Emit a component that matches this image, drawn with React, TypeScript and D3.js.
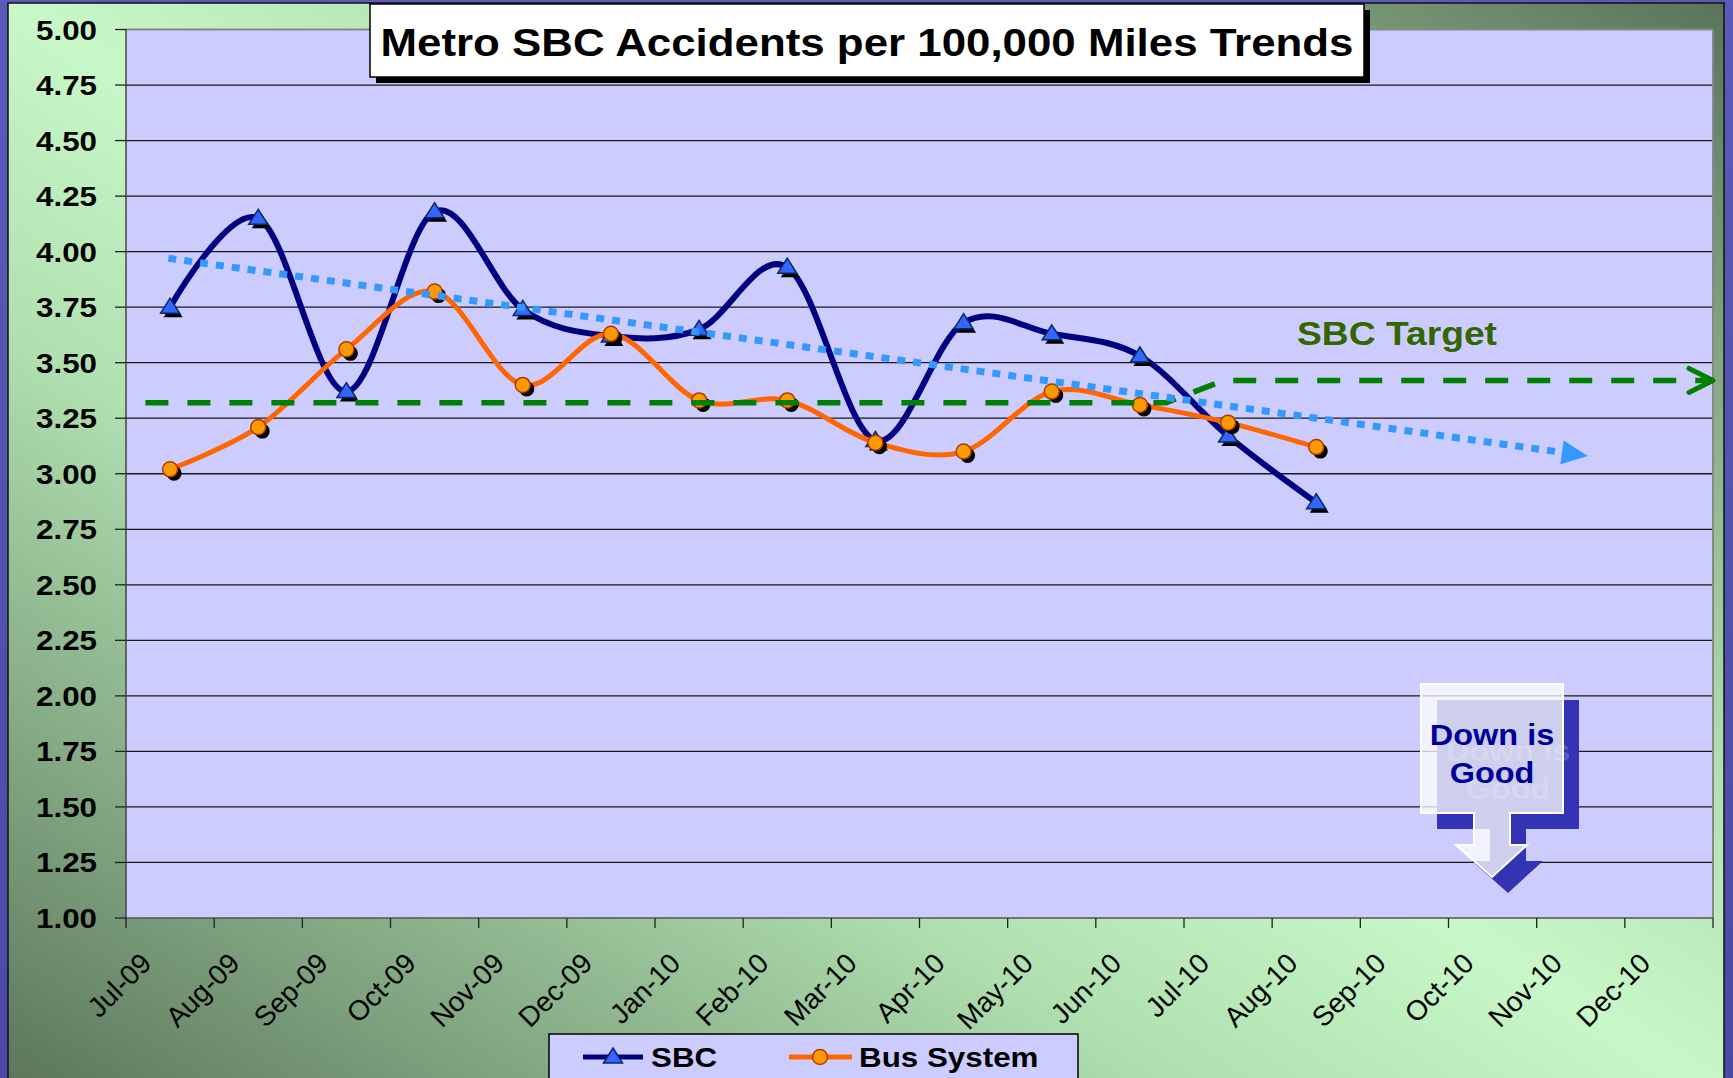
import React from 'react';
import * as d3 from 'd3';

// chart values
const months = ["Jul-09", "Aug-09", "Sep-09", "Oct-09", "Nov-09", "Dec-09", "Jan-10", "Feb-10", "Mar-10",
    "Apr-10", "May-10", "Jun-10", "Jul-10", "Aug-10", "Sep-10", "Oct-10", "Nov-10", "Dec-10"];
const sbcValues = [3.75, 4.15, 3.37, 4.18, 3.74, 3.62, 3.65, 3.93, 3.15, 3.68, 3.63, 3.53, 3.17, 2.87];
const busValues = [3.02, 3.21, 3.56, 3.82, 3.40, 3.63, 3.33, 3.33, 3.14, 3.10, 3.37, 3.31, 3.23, 3.12];
const yTicks = [1.00, 1.25, 1.50, 1.75, 2.00, 2.25, 2.50, 2.75, 3.00, 3.25, 3.50, 3.75, 4.00, 4.25, 4.50, 4.75, 5.00];
// target line (month position, value) and trend line ends
const targetPos = [0.22, 11.8, 12.45, 18.0];
const targetValues = [3.32, 3.32, 3.42, 3.42];
const trendPos = [0.48, 16.58];
const trendValues = [3.97, 3.08];

const W = 1733, H = 1078;
const margin = { left: 126, right: 20, top: 29.5, bottom: 160 };
const SX = 1.12; // source image is stretched horizontally
const FONT = "'Liberation Sans', Arial, sans-serif";

const x = d3.scaleBand().domain(months).range([margin.left, W - margin.right]).padding(0);
const xi = d3.scaleLinear().domain([0, months.length]).range([margin.left, W - margin.right]);
const y = d3.scaleLinear().domain([1, 5]).range([H - margin.bottom, margin.top]);

const cx = (i: number) => (x(months[i]) as number) + x.bandwidth() / 2;

const smooth = d3.line<number>()
    .x((d, i) => cx(i))
    .y(d => y(d))
    .curve(d3.curveCatmullRom.alpha(0));

const tri = "M0,-9 L9.5,6 L-9.5,6 Z";

const SText = ({ x: tx, y: ty, children, anchor = "start", size, weight = "bold", fill = "#000" }: any) => (
    <text transform={`translate(${tx},${ty}) scale(${SX},1)`} textAnchor={anchor}
        fontFamily={FONT} fontSize={size} fontWeight={weight} fill={fill}>{children}</text>
);

const App = () => {
    const plotL = margin.left, plotR = W - margin.right, plotT = margin.top, plotB = H - margin.bottom;

    // target
    const tPts = targetPos.map((p, i) => [xi(p), y(targetValues[i])] as [number, number]);
    const tEnd = tPts[tPts.length - 1];

    // trend, shortened by arrow head
    const a0: [number, number] = [xi(trendPos[0]), y(trendValues[0])];
    const a1: [number, number] = [xi(trendPos[1]), y(trendValues[1])];
    const ang = Math.atan2(a1[1] - a0[1], a1[0] - a0[0]);
    const headL = 26, headW = 12;
    const base: [number, number] = [a1[0] - headL * Math.cos(ang), a1[1] - headL * Math.sin(ang)];
    const nx = -Math.sin(ang), ny = Math.cos(ang);

    const callout = "M1421,684 H1563 V813 H1510 V845 H1527 L1492,877 L1456,845 H1474 V813 H1421 Z";

    return (
        <svg width={W} height={H} style={{ position: "absolute", left: 0, top: 0, display: "block" }}>
            <defs>
                <linearGradient id="chartBg" x1="0" y1="1" x2="1" y2="0">
                    <stop offset="0" stopColor="#5a745a" />
                    <stop offset="0.35" stopColor="#b0e0b0" />
                    <stop offset="0.5" stopColor="#c8f8c8" />
                    <stop offset="0.65" stopColor="#b0e0b0" />
                    <stop offset="1" stopColor="#5a745a" />
                </linearGradient>
                <linearGradient id="pageBg" x1="0" y1="0" x2="0" y2="1">
                    <stop offset="0" stopColor="#5a5ab8" />
                    <stop offset="1" stopColor="#4a4aa6" />
                </linearGradient>
            </defs>
            <rect x={0} y={0} width={W} height={H} fill="url(#pageBg)" />
            <rect x={8} y={3} width={1716} height={1095} fill="url(#chartBg)" stroke="#111" strokeWidth={1.5} />

            {/* plot area */}
            <rect x={plotL} y={plotT} width={plotR - plotL} height={plotB - plotT} fill="#CCCCFF" />
            {yTicks.filter(t => t > 1 && t < 5).map(t => (
                <line key={t} x1={plotL} x2={plotR} y1={y(t)} y2={y(t)} stroke="#1a1a1a" strokeWidth={1.3} />
            ))}
            <line x1={plotL} x2={plotR} y1={plotT} y2={plotT} stroke="#888" strokeWidth={2} />
            <line x1={plotR} x2={plotR} y1={plotT} y2={plotB} stroke="#888" strokeWidth={2} />
            <line x1={plotL} x2={plotL} y1={plotT} y2={plotB} stroke="#444" strokeWidth={1.5} />
            <line x1={plotL} x2={plotR} y1={plotB} y2={plotB} stroke="#555" strokeWidth={1.5} />

            {/* y axis */}
            {yTicks.map(t => (
                <g key={t}>
                    <line x1={plotL - 11} x2={plotL} y1={y(t)} y2={y(t)} stroke="#222" strokeWidth={1.3} />
                    <SText x={97} y={y(t) + 10} anchor="end" size={28}>{t.toFixed(2)}</SText>
                </g>
            ))}

            {/* x axis */}
            {d3.range(months.length + 1).map(i => (
                <line key={i} x1={xi(i)} x2={xi(i)} y1={plotB} y2={plotB + 10} stroke="#222" strokeWidth={1.3} />
            ))}
            {months.map((m, i) => (
                <text key={m} transform={`translate(${cx(i) - 17},${plotB + 47}) rotate(-45)`}
                    textAnchor="end" fontFamily={FONT} fontSize={28} fill="#000">{m}</text>
            ))}

            {/* series */}
            <path d={smooth(sbcValues) || ""} fill="none" stroke="#000080" strokeWidth={6} strokeLinejoin="round" />
            <path d={smooth(busValues) || ""} fill="none" stroke="#FF6600" strokeWidth={5} strokeLinejoin="round" />
            {sbcValues.map((v, i) => (
                <g key={"s" + i}>
                    <path d={tri} transform={`translate(${cx(i) + 3},${y(v) + 4})`} fill="#000" />
                    <path d={tri} transform={`translate(${cx(i)},${y(v)})`} fill="#3366FF" stroke="#0a2a66" strokeWidth={1.5} />
                </g>
            ))}
            {busValues.map((v, i) => (
                <g key={"b" + i}>
                    <circle cx={cx(i) + 4} cy={y(v) + 4} r={7.5} fill="#000" />
                    <circle cx={cx(i)} cy={y(v)} r={7.5} fill="#FF9900" stroke="#B03A00" strokeWidth={1.5} />
                </g>
            ))}

            {/* target */}
            <path d={d3.line()(tPts) || ""} fill="none" stroke="#008000" strokeWidth={5.5} strokeDasharray="23 19" />
            <path d={`M${tEnd[0] - 24},${tEnd[1] - 12} L${tEnd[0]},${tEnd[1]} L${tEnd[0] - 24},${tEnd[1] + 12}`}
                fill="none" stroke="#008000" strokeWidth={5} strokeLinecap="round" strokeLinejoin="round" />
            <text x={1297} y={345} fontFamily={FONT} fontSize={33} fontWeight="bold" fill="#336600"
                textLength={200} lengthAdjust="spacingAndGlyphs">SBC Target</text>

            {/* trend */}
            <path d={`M${a0[0]},${a0[1]} L${base[0]},${base[1]}`} fill="none" stroke="#3399FF" strokeWidth={7} strokeDasharray="8 8" />
            <path d={`M${a1[0]},${a1[1]} L${base[0] + nx * headW},${base[1] + ny * headW} L${base[0] - nx * headW},${base[1] - ny * headW} Z`}
                fill="#3399FF" />

            {/* title */}
            <rect x={376} y={10} width={994} height={73} fill="#000" />
            <rect x={370} y={4} width={994} height={73} fill="#fff" stroke="#000" strokeWidth={1.5} />
            <text x={867} y={56} textAnchor="middle" fontFamily={FONT} fontSize={39} fontWeight="bold"
                textLength={973} lengthAdjust="spacingAndGlyphs">Metro SBC Accidents per 100,000 Miles Trends</text>

            {/* down is good callout */}
            <g transform="translate(16,16)">
                <path d={callout} fill="#3333B3" />
                <SText x={1492} y={745} anchor="middle" size={29} fill="#5a5ac4">Down is</SText>
                <SText x={1492} y={783} anchor="middle" size={29} fill="#5a5ac4">Good</SText>
            </g>
            <path d={callout} fill="#fff" fillOpacity={0.76} stroke="#fff" strokeWidth={2} />
            <SText x={1492} y={745} anchor="middle" size={29} fill="#000099">Down is</SText>
            <SText x={1492} y={783} anchor="middle" size={29} fill="#000099">Good</SText>

            {/* legend */}
            <rect x={549} y={1034} width={529} height={70} fill="#CCCCFF" stroke="#000" strokeWidth={1.5} />
            <line x1={583} x2={643} y1={1057} y2={1057} stroke="#000080" strokeWidth={5} />
            <path d={tri} transform="translate(613,1057)" fill="#3366FF" stroke="#0a2a66" strokeWidth={1.5} />
            <SText x={651} y={1067} size={28}>SBC</SText>
            <line x1={789} x2={852} y1={1057} y2={1057} stroke="#FF6600" strokeWidth={5} />
            <circle cx={820} cy={1057} r={7.5} fill="#FF9900" stroke="#B03A00" strokeWidth={1.5} />
            <SText x={859} y={1067} size={28}>Bus System</SText>
        </svg>
    );
};

export default App;
